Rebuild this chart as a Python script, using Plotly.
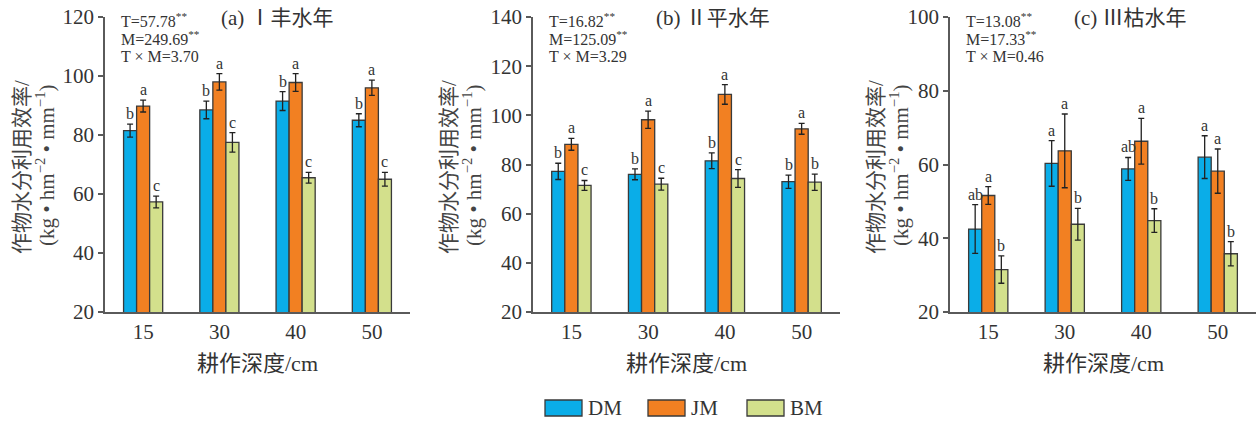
import plotly.graph_objects as go

depths = ["15", "30", "40", "50"]
series = ["DM", "JM", "BM"]
colors = {"DM": "#0AADE8", "JM": "#F28022", "BM": "#D3E08C"}

# panel (a) 丰水年
a_vals = {"DM": [81.5, 88.5, 91.5, 85.0], "JM": [89.8, 98.0, 97.8, 96.0], "BM": [57.3, 77.5, 65.5, 65.0]}
a_err = {"DM": [2.2, 3.0, 3.2, 2.2], "JM": [2.0, 2.8, 3.0, 2.6], "BM": [2.0, 3.3, 1.8, 2.3]}
a_let = {"DM": ["b", "b", "b", "b"], "JM": ["a", "a", "a", "a"], "BM": ["c", "c", "c", "c"]}
# panel (b) 平水年
b_vals = {"DM": [77.2, 76.0, 81.5, 73.0], "JM": [88.2, 98.2, 108.5, 94.5], "BM": [71.5, 72.0, 74.3, 72.8]}
b_err = {"DM": [3.3, 2.2, 3.2, 2.7], "JM": [2.4, 3.5, 4.0, 2.2], "BM": [2.0, 2.4, 3.6, 3.3]}
b_let = {"DM": ["b", "b", "b", "b"], "JM": ["a", "a", "a", "a"], "BM": ["c", "c", "c", "b"]}
# panel (c) 枯水年
c_vals = {"DM": [42.5, 60.3, 58.8, 62.0], "JM": [51.6, 63.7, 66.3, 58.2], "BM": [31.5, 43.8, 44.8, 35.8]}
c_err = {"DM": [6.6, 6.2, 3.1, 5.8], "JM": [2.4, 10.0, 6.2, 6.0], "BM": [3.7, 4.3, 3.2, 3.3]}
c_let = {"DM": ["ab", "a", "ab", "a"], "JM": ["a", "a", "a", "a"], "BM": ["b", "b", "b", "b"]}

titles = ["(a) Ⅰ丰水年", "(b) Ⅱ平水年", "(c) Ⅲ枯水年"]
stats = [["T=57.78<sup>**</sup>", "M=249.69<sup>**</sup>", "T × M=3.70"],
         ["T=16.82<sup>**</sup>", "M=125.09<sup>**</sup>", "T × M=3.29"],
         ["T=13.08<sup>**</sup>", "M=17.33<sup>**</sup>", "T × M=0.46"]]
yranges = [[20, 120], [20, 140], [20, 100]]
ydticks = [20, 20, 20]

FONT = "Liberation Serif, Times New Roman, Noto Sans CJK SC"
W, H = 1257, 423
xdom = [[105 / W, 410 / W], [533 / W, 840 / W], [950 / W, 1256 / W]]
ydom = [1 - 312 / H, 1 - 17 / H]
ytitle_x = [[22, 45], [449, 472], [876, 899]]
title_cx = [277, 713, 1130]

panels = [(a_vals, a_err, a_let), (b_vals, b_err, b_let), (c_vals, c_err, c_let)]

fig = go.Figure()
annotations = []
bargap = 0.487
barw = (1 - bargap) / 3

for p, (vals, errs, lets) in enumerate(panels):
    xa = "x" if p == 0 else f"x{p+1}"
    ya = "y" if p == 0 else f"y{p+1}"
    for si, s in enumerate(series):
        fig.add_trace(go.Bar(
            x=depths, y=vals[s], name=s, xaxis=xa, yaxis=ya,
            marker=dict(color=colors[s], line=dict(color="#3a3a3a", width=1.3)),
            error_y=dict(type="data", array=errs[s], color="#222222", thickness=1.3, width=3),
            showlegend=False,
        ))
        for ci in range(len(depths)):
            annotations.append(dict(
                x=ci + (si - 1) * barw, y=vals[s][ci] + errs[s][ci],
                xref=xa, yref=ya, text=lets[s][ci], showarrow=False,
                yanchor="bottom", yshift=0,
                font=dict(family=FONT, size=16, color="#333333"),
            ))
    # title
    annotations.append(dict(x=title_cx[p] / W, y=1 - 18 / H, xref="paper", yref="paper",
                            text=titles[p], showarrow=False, xanchor="center", yanchor="middle",
                            font=dict(family=FONT, size=21, color="#333333")))
    for li, line in enumerate(stats[p]):
        annotations.append(dict(x=xdom[p][0] + 14 / W, y=1 - (20 + 18.5 * li) / H, xref="paper", yref="paper",
                                text=line, showarrow=False, xanchor="left", yanchor="middle",
                                font=dict(family=FONT, size=16, color="#333333")))
    # y-axis title (two lines)
    annotations.append(dict(x=ytitle_x[p][0] / W, y=1 - 167 / H, xref="paper", yref="paper",
                            text="作物水分利用效率/", textangle=-90, showarrow=False,
                            xanchor="center", yanchor="middle",
                            font=dict(family=FONT, size=21, color="#444444")))
    annotations.append(dict(x=ytitle_x[p][1] / W, y=1 - 165 / H, xref="paper", yref="paper",
                            text="(kg • hm<sup>−2</sup> • mm<sup>−1</sup>)", textangle=-90, showarrow=False,
                            xanchor="center", yanchor="middle",
                            font=dict(family=FONT, size=21, color="#444444")))
    # x-axis title
    annotations.append(dict(x=(xdom[p][0] + xdom[p][1]) / 2, y=1 - 363 / H, xref="paper", yref="paper",
                            text="耕作深度/cm", showarrow=False, xanchor="center", yanchor="middle",
                            font=dict(family=FONT, size=22, color="#333333")))

    axis_common = dict(showline=True, linecolor="#5a5a5a", linewidth=1.6, showgrid=False, zeroline=False,
                       automargin=False, tickfont=dict(family=FONT, size=21, color="#333333"))
    fig.layout[("xaxis" if p == 0 else f"xaxis{p+1}")] = dict(
        domain=xdom[p], anchor=ya, type="category", range=[-0.5, 3.5], ticks="", **axis_common)
    fig.layout[("yaxis" if p == 0 else f"yaxis{p+1}")] = dict(
        domain=ydom, anchor=xa, range=yranges[p], dtick=ydticks[p], ticks="outside", ticklen=5,
        tickcolor="#5a5a5a", tickwidth=1.5, **axis_common)

# custom legend with wide swatches
shapes = []
leg_x = [545, 648, 747]
for i, s in enumerate(series):
    shapes.append(dict(type="rect", xref="paper", yref="paper",
                       x0=leg_x[i] / W, x1=(leg_x[i] + 37) / W, y0=1 - 416 / H, y1=1 - 400 / H,
                       fillcolor=colors[s], line=dict(color="#3a3a3a", width=1.3)))
    annotations.append(dict(x=(leg_x[i] + 41) / W, y=1 - 408 / H, xref="paper", yref="paper", text=s,
                            showarrow=False, xanchor="left", yanchor="middle",
                            font=dict(family=FONT, size=21, color="#333333")))

fig.update_layout(
    width=W, height=H, margin=dict(l=0, r=0, t=0, b=0, autoexpand=False),
    paper_bgcolor="white", plot_bgcolor="white",
    barmode="group", bargap=bargap, bargroupgap=0,
    annotations=annotations, shapes=shapes,
)

fig.write_html("out.html", config={"displayModeBar": False},
               post_script="document.body.style.margin='0';document.body.style.overflow='hidden';")
